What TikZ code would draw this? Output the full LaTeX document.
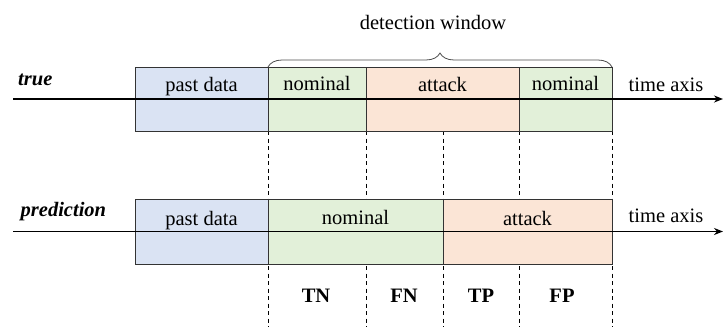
\documentclass[tikz,border=0pt]{standalone}
\usepackage{fontspec}
\setmainfont{Liberation Serif}
\usetikzlibrary{decorations.pathreplacing,arrows.meta}
\definecolor{pastblue}{HTML}{DAE3F3}
\definecolor{nomgreen}{HTML}{E2F0D9}
\definecolor{attorange}{HTML}{FBE5D6}
\begin{document}
\begin{tikzpicture}[x=1pt,y=-1pt,
  seg/.style={draw=black!80,line width=0.8pt},
  lbl/.style={font=\fontsize{20.5}{24}\selectfont,anchor=base,inner sep=0pt},
  blbl/.style={font=\fontsize{20.5}{24}\selectfont\bfseries,anchor=base,inner sep=0pt},
  rowlbl/.style={font=\fontsize{20.5}{24}\selectfont\bfseries\itshape,anchor=base west,inner sep=0pt},
  axis/.style={line width=1.6pt,-{Stealth[length=9pt,width=7pt]}},
  vdash/.style={line width=0.7pt,dash pattern=on 4pt off 3.5pt}]
\useasboundingbox (0,0) rectangle (723,327);
% dashed separators (behind boxes)
\foreach \xx/\nm in {268/a,366/b,443/c,519/d,612/e}{
  \coordinate (t\nm) at (\xx,131);
  \coordinate (b\nm) at (\xx,327);
  \draw[vdash] (t\nm) -- (b\nm);
}
% top row
\coordinate (ts) at (13,99);
\coordinate (te) at (723,99);
\filldraw[seg,fill=pastblue] (135,67) rectangle (268,131);
\filldraw[seg,fill=nomgreen] (268,67) rectangle (366,131);
\filldraw[seg,fill=attorange] (366,67) rectangle (519,131);
\filldraw[seg,fill=nomgreen] (519,67) rectangle (612,131);
\draw[axis] (ts) -- (te);
\node[lbl] (tp) at (201.5,91) {past data};
\node[lbl] (tn1) at (317,90) {nominal};
\node[lbl] (ta) at (442.5,91) {attack};
\node[lbl] (tn2) at (565.5,90) {nominal};
\node[lbl] (tax) at (666,91.5) {time axis};
\node[rowlbl] (ttrue) at (18,85) {true};
% brace
\coordinate (bl) at (268,67);
\coordinate (br) at (612,67);
\draw[black!70,line width=0.8pt,decorate,decoration={brace,amplitude=14pt,aspect=0.5}] (bl) -- (br);
\node[lbl] (dw) at (433,29) {detection window};
% bottom row
\coordinate (bs) at (13,231.5);
\coordinate (be) at (723,231.5);
\filldraw[seg,fill=pastblue] (135,199) rectangle (268,264);
\filldraw[seg,fill=nomgreen] (268,199) rectangle (443,264);
\filldraw[seg,fill=attorange] (443,199) rectangle (612,264);
\draw[axis] (bs) -- (be);
\node[lbl] (bp) at (201.5,225) {past data};
\node[lbl] (bn) at (355.5,224) {nominal};
\node[lbl] (ba) at (527.5,225) {attack};
\node[lbl] (bax) at (666,222.5) {time axis};
\node[rowlbl] (bpred) at (20.5,216) {prediction};
% outcome labels
\node[blbl] (TN) at (316,302) {TN};
\node[blbl] (FN) at (404,302) {FN};
\node[blbl] (TP) at (481,302) {TP};
\node[blbl] (FP) at (562,302) {FP};
\end{tikzpicture}
\end{document}
